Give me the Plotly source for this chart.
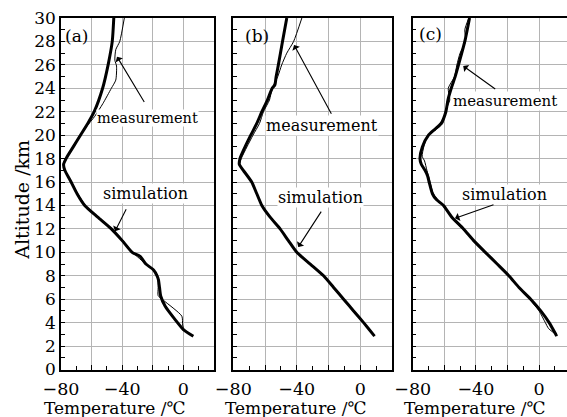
import plotly.graph_objects as go

# ---------------- data ----------------
# panel (a)
a_sim_alt = [30, 28, 26, 24, 22, 21, 20, 19, 18, 17.5, 17, 16, 15, 14, 13, 12, 11, 10, 9.66, 9, 8.5, 8, 7.65, 7, 6.25, 5.4, 4.26, 3.41, 2.84]
a_sim_T = [-45.5, -46.5, -49.2, -52.8, -58.3, -62.5, -67.3, -72, -76.7, -78.3, -77.5, -73.4, -69.5, -64.5, -56, -47.1, -40, -33.5, -28.3, -24.5, -19.5, -17.2, -16.3, -15.6, -14.8, -11.9, -5.4, 0, 6.5]
a_mea_alt = [30, 28, 27.3, 26.4, 25.9, 24.7, 24, 22.7, 21.6, 20.7, 19.3, 18.1, 17.6, 17, 16, 15, 14, 13, 12, 11, 10, 9, 8.5, 7.8, 7.0, 6.3, 5.9, 4.55, 3.8, 3.4, 2.9]
a_mea_T = [-38.6, -41.6, -44.2, -44.8, -43.7, -44.2, -47.1, -52.6, -58, -63.5, -71, -76.3, -78.5, -77.8, -73, -69, -64, -55.5, -46.5, -39.5, -33.2, -24.5, -19.5, -16.8, -16.5, -16.5, -13, -1, -0.5, 0.5, 6.0]

# panel (b)
b_sim_alt = [30, 28, 26, 25, 24.3, 24, 23, 22, 21, 20, 19, 18, 17.5, 17, 16, 15, 14, 13, 12, 11, 10, 9, 8, 7, 6, 5, 4, 3, 2.85]
b_sim_T = [-46.3, -49, -51.6, -53, -53.8, -55.5, -58.5, -62, -65.2, -69, -72.6, -75.8, -76.2, -73.7, -68.4, -65.2, -62, -56.8, -50.5, -45.3, -40, -31.5, -23.1, -16.8, -10.5, -4.2, 2.1, 8.1, 9.0]
b_mea_alt = [30, 28, 27, 26, 25, 24, 23, 22, 21, 20, 19, 18, 17.5, 17, 16, 15, 14, 13, 12, 11, 10, 9, 8, 7, 6, 5, 4, 3, 2.85]
b_mea_T = [-36.8, -42, -46.3, -49.5, -52, -55.5, -57.2, -61, -63.5, -67.6, -71.4, -75, -76, -73.5, -68.6, -65, -62.2, -56.5, -50.8, -45, -40.2, -31.8, -23.3, -16.6, -10.7, -4.0, 2.0, 8.0, 9.0]

# panel (c)
c_sim_alt = [30, 28, 26, 25, 24, 23, 22, 21, 20.5, 20, 19, 18, 17.5, 17, 16.5, 16, 15, 14.5, 14, 13, 12, 11, 10, 9, 8, 7, 6, 5, 4, 3, 2.85]
c_sim_T = [-44, -47, -51, -53.1, -55.6, -57.7, -59, -62, -66, -70, -73.9, -75.4, -74.5, -72.2, -70.5, -69.6, -67.5, -65, -60.5, -55.2, -47.8, -41.4, -34, -26.5, -19.1, -12.7, -5.3, 1.1, 6.4, 10.6, 11.2]
c_mea_alt = [30, 29, 28, 27, 26, 25, 24, 23, 22, 21, 20.5, 20, 19, 18.2, 17.8, 17, 16, 15, 14, 13, 12, 11, 10, 9, 8, 7, 6, 5, 4, 3.5, 3, 2.85]
c_mea_T = [-44.5, -47, -46.5, -50, -52, -53.5, -57.5, -56.5, -59.5, -61, -65, -70.5, -73, -74, -72.5, -71, -69, -67, -61, -55.5, -48.5, -41, -34.5, -27, -19, -13, -6, 0, 4, 6, 10.5, 11.2]

panels = [
    ("(a)", a_sim_alt, a_sim_T, a_mea_alt, a_mea_T),
    ("(b)", b_sim_alt, b_sim_T, b_mea_alt, b_mea_T),
    ("(c)", c_sim_alt, c_sim_T, c_mea_alt, c_mea_T),
]

x_tickvals = [-80, -60, -40, -20, 0, 20]
x_ticktext = ["\u221280", "", "\u221240", "", "0", ""]
y_tickvals = list(range(0, 31, 2))
x_title = "Temperature /\u2103"
y_title = "Altitude /km"

# annotation positions (data coordinates)
label_pos = [(-78.5, 28.5), (-74, 28.5), (-77.5, 28.6)]
meas_text = [(-23.5, 21.45), (-24, 20.8), (-21.6, 22.9)]
meas_size = [14.5, 16, 15]
meas_arrow = [((-25, 22.7), (-43.4, 26.7)), ((-17.7, 21.7), (-41.7, 27.7)), ((-26.8, 23.85), (-48, 25.9))]
sim_text = [(-25, 15.05), (-25.2, 14.7), (-21.6, 14.95)]
sim_arrow = [((-36.9, 13.8), (-44.7, 11.8)), ((-24, 13.6), (-39.1, 10.45)), ((-27.9, 14.1), (-53.2, 12.9))]
title_x = [-45, -40.5, -40.5]

# ---------------- layout geometry ----------------
W, H = 567, 417
x_domains = [(61 / W, 214 / W), (233.3 / W, 392 / W), (412.7 / W, 1.0)]
x_ranges = [[-80, 20], [-80, 20], [-80, 17.7]]
y_domain = (1 - 369.5 / H, 1 - 18 / H)

FONT = "DejaVu Serif"
grid_col = "#b4b4b4"

fig = go.Figure()
layout = dict(
    width=W, height=H,
    margin=dict(l=0, r=0, t=0, b=0, pad=0, autoexpand=False),
    paper_bgcolor="white", plot_bgcolor="white",
    showlegend=False,
    font=dict(family=FONT, size=18, color="black"),
)
annotations = []

for i, (lab, s_alt, s_T, m_alt, m_T) in enumerate(panels):
    xa = "x" if i == 0 else f"x{i+1}"
    ya = "y" if i == 0 else f"y{i+1}"
    fig.add_trace(go.Scatter(x=m_T, y=m_alt, mode="lines", xaxis=xa, yaxis=ya,
                             line=dict(color="black", width=1.0, shape="spline", smoothing=0.6),
                             hoverinfo="skip"))
    fig.add_trace(go.Scatter(x=s_T, y=s_alt, mode="lines", xaxis=xa, yaxis=ya,
                             line=dict(color="black", width=3.0, shape="spline", smoothing=0.6),
                             hoverinfo="skip"))
    xkey = "xaxis" if i == 0 else f"xaxis{i+1}"
    ykey = "yaxis" if i == 0 else f"yaxis{i+1}"
    layout[xkey] = dict(
        domain=list(x_domains[i]), range=x_ranges[i], anchor=ya, automargin=False,
        tickmode="array", tickvals=x_tickvals, ticktext=x_ticktext,
        ticks="inside", ticklen=5, tickwidth=1.2, tickcolor="black",
        ticklabelstandoff=3,
        showgrid=True, gridcolor=grid_col, gridwidth=1,
        showline=True, linecolor="black", linewidth=1.5, mirror=True,
        zeroline=False, tickfont=dict(family=FONT, size=17.5),
        minor=dict(dtick=10, tick0=0, ticks="inside", ticklen=4, tickwidth=1.2,
                   tickcolor="black", showgrid=False),
    )
    layout[ykey] = dict(
        domain=list(y_domain), range=[0, 30], anchor=xa, automargin=False,
        tickmode="array", tickvals=y_tickvals,
        showticklabels=(i == 0),
        ticks="inside", ticklen=4, tickwidth=1.2, tickcolor="black",
        showgrid=True, gridcolor=grid_col, gridwidth=1,
        showline=True, linecolor="black", linewidth=1.5, mirror=True,
        zeroline=False, tickfont=dict(family=FONT, size=17),
        minor=dict(dtick=1, tick0=0, ticks="inside", ticklen=4, tickwidth=1.2,
                   tickcolor="black", showgrid=False),
    )
    annotations.append(dict(x=label_pos[i][0], y=label_pos[i][1], xref=xa, yref=ya,
                            text=lab, showarrow=False, xanchor="left", yanchor="middle",
                            font=dict(family=FONT, size=17)))
    annotations.append(dict(x=meas_text[i][0], y=meas_text[i][1], xref=xa, yref=ya,
                            text="measurement", showarrow=False, xanchor="center", yanchor="middle",
                            bgcolor="white", borderpad=0, font=dict(family=FONT, size=meas_size[i])))
    annotations.append(dict(x=sim_text[i][0], y=sim_text[i][1], xref=xa, yref=ya,
                            text="simulation", showarrow=False, xanchor="center", yanchor="middle",
                            bgcolor="white", borderpad=0, font=dict(family=FONT, size=16)))
    for (tail, head) in (meas_arrow[i], sim_arrow[i]):
        annotations.append(dict(x=head[0], y=head[1], ax=tail[0], ay=tail[1],
                                xref=xa, yref=ya, axref=xa, ayref=ya, text="",
                                showarrow=True, arrowhead=1, arrowsize=1.3, arrowwidth=1.1,
                                arrowcolor="black"))
    annotations.append(dict(x=title_x[i], y=1 - 408 / H, xref=xa, yref="paper",
                            text=x_title, showarrow=False, xanchor="center", yanchor="middle",
                            font=dict(family=FONT, size=17)))

annotations.append(dict(x=21.7 / W, y=1 - 200 / H, xref="paper", yref="paper",
                        text=y_title, showarrow=False, textangle=-90,
                        xanchor="center", yanchor="middle", font=dict(family=FONT, size=19)))
layout["annotations"] = annotations
fig.update_layout(**layout)
fig.write_html("out.html")
